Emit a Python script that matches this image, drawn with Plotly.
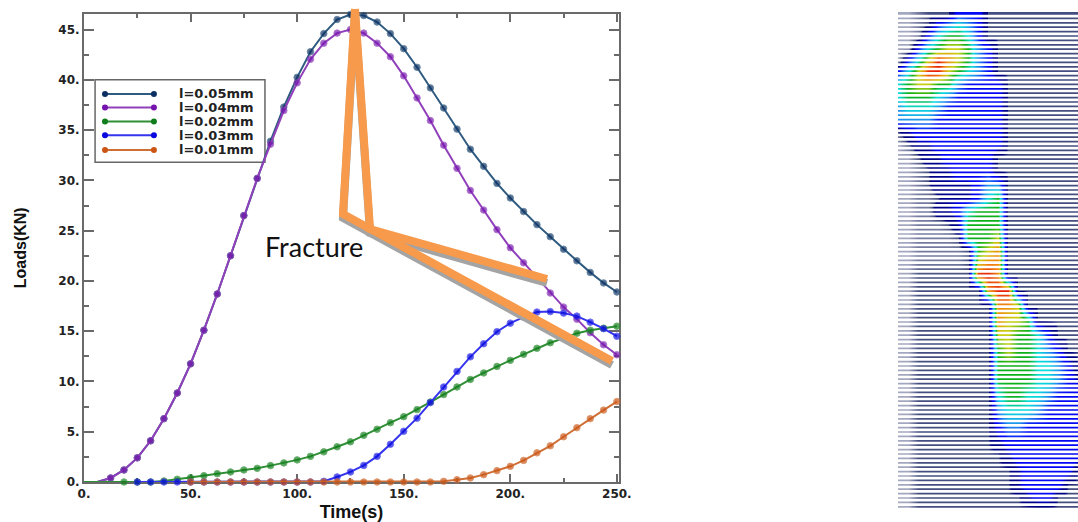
import plotly.graph_objects as go

W, H = 1078, 522

TIME = [0, 6.25, 12.5, 18.75, 25, 31.25, 37.5, 43.75, 50, 56.25, 62.5, 68.75, 75, 81.25,
        87.5, 93.75, 100, 106.25, 112.5, 118.75, 125, 131.25, 137.5, 143.75, 150, 156.25,
        162.5, 168.75, 175, 181.25, 187.5, 193.75, 200, 206.25, 212.5, 218.75, 225,
        231.25, 237.5, 243.75, 250]

L005 = [0, 0, 0.4, 1.2, 2.4, 4.1, 6.3, 8.85, 11.75, 15.1, 18.7, 22.5, 26.5, 30.2, 33.9, 37.3,
        40.25, 42.8, 44.6, 46.0, 46.5, 46.4, 45.75, 44.6, 43.1, 41.25, 39.2, 37.2, 35.1, 33.1,
        31.4, 29.7, 28.25, 26.9, 25.6, 24.4, 23.15, 22.0, 20.85, 19.8, 18.9]
L004 = [0, 0, 0.4, 1.2, 2.4, 4.1, 6.3, 8.85, 11.75, 15.1, 18.7, 22.5, 26.5, 30.2, 33.6, 36.95,
        39.7, 42.05, 43.65, 44.65, 45.0, 44.65, 43.65, 42.3, 40.4, 38.2, 35.95, 33.5, 31.2, 29.0,
        27.05, 25.1, 23.3, 21.8, 20.3, 18.8, 17.4, 16.2, 14.85, 13.65, 12.65]
L002 = [0, 0, 0, 0, 0, 0, 0.1, 0.27, 0.43, 0.63, 0.83, 1.0, 1.2, 1.36, 1.63, 1.9, 2.2, 2.55, 3.0,
        3.5, 4.0, 4.65, 5.25, 5.9, 6.5, 7.2, 7.95, 8.7, 9.45, 10.2, 10.85, 11.5, 12.1, 12.7, 13.3,
        13.85, 14.3, 14.8, 15.1, 15.3, 15.5]
L003 = [None, None, None, None, 0, 0, 0, 0, 0, 0, 0, 0, 0, 0, 0, 0, 0, 0, 0.07, 0.5, 1.0, 1.65,
        2.55, 3.75, 5.05, 6.35, 7.9, 9.45, 11.0, 12.45, 13.75, 14.95, 15.8, 16.4, 16.9, 16.95,
        16.8, 16.5, 15.9, 15.25, 14.5]
L001 = [None, None, None, None, None, None, None, None, 0, 0, 0, 0, 0, 0, 0, 0, 0, 0, 0, 0, 0, 0,
        0, 0, 0, 0, 0, 0.07, 0.23, 0.4, 0.73, 1.13, 1.56, 2.15, 2.9, 3.6, 4.5, 5.4, 6.3, 7.15, 8.0]

SERIES_NAMES = ["l=0.05mm", "l=0.04mm", "l=0.02mm", "l=0.03mm", "l=0.01mm"]
SERIES_VALUES = [L005, L004, L002, L003, L001]
LINE_COLORS = ["#2f5b80", "#9140bc", "#2f8f35", "#3434ee", "#cf6f35"]
DOT_COLORS = ["#0b2f62", "#7413ad", "#0f7d1a", "#0808df", "#cc5514"]
FIRST_DOT = [2, 2, 3, 4, 8]

X_TICKS = [0, 50, 100, 150, 200, 250]
X_TICK_TEXT = ["0.", "50.", "100.", "150.", "200.", "250."]
Y_TICKS = [0, 5, 10, 15, 20, 25, 30, 35, 40, 45]
Y_TICK_TEXT = ["0.", "5.", "10.", "15.", "20.", "25.", "30.", "35.", "40.", "45."]

# legend key read in axis units
KEY_X = [9.85, 32.8]
KEY_Y = [38.6, 37.26, 35.87, 34.48, 33.03]

# contour panel: colour level read at each row / column
HEAT_X = [898, 908, 918, 928, 938, 948, 958, 968, 978, 988, 998, 1008, 1018, 1028, 1038, 1048,
          1058, 1068, 1078]
HEAT_ROWS = [
    (14, "00.1113331111111111"), (24, "00.1345431111111111"), (36, "00.3566531111111111"),
    (48, "0035677643111111111"), (60, "0357987643111111111"), (72, "3579976543111111111"),
    (84, "5677664333311111111"), (96, "5666543333311111111"), (108, "4555433333311111111"),
    (120, "4444333333311111111"), (132, "1233333333311111111"), (144, "0122333333311111111"),
    (156, "0012233333111111111"), (170, "00.1223333111111111"), (184, "00.1222234411111111"),
    (198, "00..122235611111111"), (210, "00..223566611111111"), (224, "00...12666611111111"),
    (238, "00....1666711111111"), (250, "00.....167811111111"), (262, "00.....178811111111"),
    (275, "0011111199811111111"), (290, "0011111118991111111"), (305, "0011111111887111111"),
    (320, "0011111111877611111"), (335, "0011111111776653111"), (350, "0011111111676654311"),
    (365, "0011111111666655431"), (380, "0011111111666655432"), (395, "0011111111566554333"),
    (410, "0011111111455543333"), (425, "0011111111344333333"), (440, "0011111111233333333"),
    (455, "0011111111123333333"), (470, "0011111111112333331"), (485, "0011111111112333311"),
    (497, "0011111111111233111"), (508, "0011111111111111111"),
]
HEAT_LEVEL = {".": 0.5, "0": 0, "1": 1, "2": 2, "3": 3, "4": 4, "5": 5, "6": 6, "7": 7, "8": 8, "9": 9}
HEAT_STOPS = [(0, "#a4a7c0"), (1, "#454e80"), (1.2, "#000080"), (2, "#000090"), (2.4, "#0000f0"),
              (3, "#0508f5"), (4, "#1f8fee"), (5, "#08dcdc"), (6, "#0cb018"), (7, "#c8d010"),
              (8, "#f08a10"), (9, "#e81a08")]


def px(x):
    return x / W


def py(y):
    return 1 - y / H


fig = go.Figure()

# contour panel
heat_y = [r[0] for r in HEAT_ROWS]
heat_z = [[HEAT_LEVEL[c] for c in r[1]] for r in HEAT_ROWS]
fig.add_trace(go.Heatmap(
    x=HEAT_X, y=heat_y, z=heat_z, xaxis="x2", yaxis="y2", zsmooth="best", zmin=0, zmax=9,
    showscale=False, hoverinfo="skip",
    colorscale=[[v / 9, c] for v, c in HEAT_STOPS],
))
gap_x, gap_y = [], []
for i in range(113):
    y = 16.2 + 4.4 * i
    gap_x += [898, 1078, None]
    gap_y += [y, y, None]
fig.add_trace(go.Scatter(
    x=gap_x, y=gap_y, xaxis="x2", yaxis="y2", mode="lines", showlegend=False, hoverinfo="skip",
    line=dict(color="white", width=2.7),
))

# curves
for name, vals, lc, dc, first in zip(SERIES_NAMES, SERIES_VALUES, LINE_COLORS, DOT_COLORS, FIRST_DOT):
    fig.add_trace(go.Scatter(
        x=TIME, y=vals, name=name, mode="lines+markers", showlegend=False, cliponaxis=False,
        line=dict(color=lc, width=2),
        marker=dict(color=dc, size=[0] * first + [6.5] * (len(TIME) - first)),
    ))

# legend keys
annotations = []
for name, y, lc, dc in zip(SERIES_NAMES, KEY_Y, LINE_COLORS, DOT_COLORS):
    fig.add_trace(go.Scatter(
        x=KEY_X, y=[y, y], mode="lines+markers", showlegend=False, hoverinfo="skip",
        line=dict(color=lc, width=2), marker=dict(color=dc, size=6),
    ))
    annotations.append(dict(
        x=44.6, y=y, xref="x", yref="y", text=name, showarrow=False, xanchor="left", yanchor="middle",
        xshift=-2, font=dict(family="DejaVu Sans", size=13, color="#222222", weight="bold"),
    ))

annotations.append(dict(
    x=px(265), y=py(246), xref="paper", yref="paper", text="Fracture", showarrow=False,
    xanchor="left", yanchor="middle", xshift=-2, font=dict(family="Lato", size=27, color="#111111"),
))


def path(points, dy=0):
    pts = [f"{px(x)},{py(y + dy)}" for x, y in points]
    return "M" + " L".join(pts)


CALL_A = [(355, 9), (343, 214), (612, 361)]
CALL_B = [(355, 9), (370, 229), (547, 279)]
shapes = [dict(type="rect", xref="x", yref="y", x0=5.2, x1=84.9, y0=31.8, y1=40.0,
               line=dict(color="#666666", width=1.5), layer="below")]
for pts in (CALL_A, CALL_B):
    shapes.append(dict(type="path", xref="paper", yref="paper", path=path(pts, 4),
                       line=dict(color="#a4a4a4", width=8)))
for pts in (CALL_A, CALL_B):
    shapes.append(dict(type="path", xref="paper", yref="paper", path=path(pts),
                       line=dict(color="#f89a4b", width=8)))

axis_common = dict(
    automargin=False, layer="below traces",
    showgrid=False, zeroline=False, showline=True, linecolor="#6a6a6a", linewidth=2,
    mirror="ticks", ticks="inside", tickcolor="#6a6a6a", tickwidth=2,
    tickfont=dict(family="DejaVu Sans", size=12, color="#222222", weight="bold"),
)

fig.update_layout(
    width=W, height=H, autosize=False, margin=dict(l=0, r=0, t=0, b=0),
    paper_bgcolor="white", plot_bgcolor="white", showlegend=False,
    annotations=annotations, shapes=shapes,
    xaxis=dict(
        domain=[px(84), px(619)], range=[0, 251], tickmode="array", tickvals=X_TICKS,
        ticktext=X_TICK_TEXT, ticklen=8,
        minor=dict(tickmode="array", tickvals=[25, 75, 125, 175, 225], ticks="inside", ticklen=4,
                   tickcolor="#6a6a6a", tickwidth=2),
        title=dict(text="Time(s)",
                   font=dict(family="Liberation Sans", size=18, color="#111111", weight="bold")),
        **axis_common,
    ),
    yaxis=dict(
        domain=[py(482), py(13.5)], range=[0, 46.6], tickmode="array", tickvals=Y_TICKS,
        ticktext=Y_TICK_TEXT, ticklen=10,
        minor=dict(tickmode="array", tickvals=[2.5, 7.5, 12.5, 17.5, 22.5, 27.5, 32.5, 37.5, 42.5],
                   ticks="inside", ticklen=5, tickcolor="#6a6a6a", tickwidth=2),
        title=dict(text="Loads(KN)", standoff=28,
                   font=dict(family="Liberation Sans", size=16, color="#111111", weight="bold")),
        **axis_common,
    ),
    xaxis2=dict(domain=[px(898), 1], range=[898, 1078], visible=False, anchor="y2"),
    yaxis2=dict(domain=[py(508), py(12)], range=[508, 12], visible=False, anchor="x2"),
)

fig.write_html("out.html", config=dict(displayModeBar=False),
               post_script="document.body.style.margin='0';document.body.style.overflow='hidden';")
